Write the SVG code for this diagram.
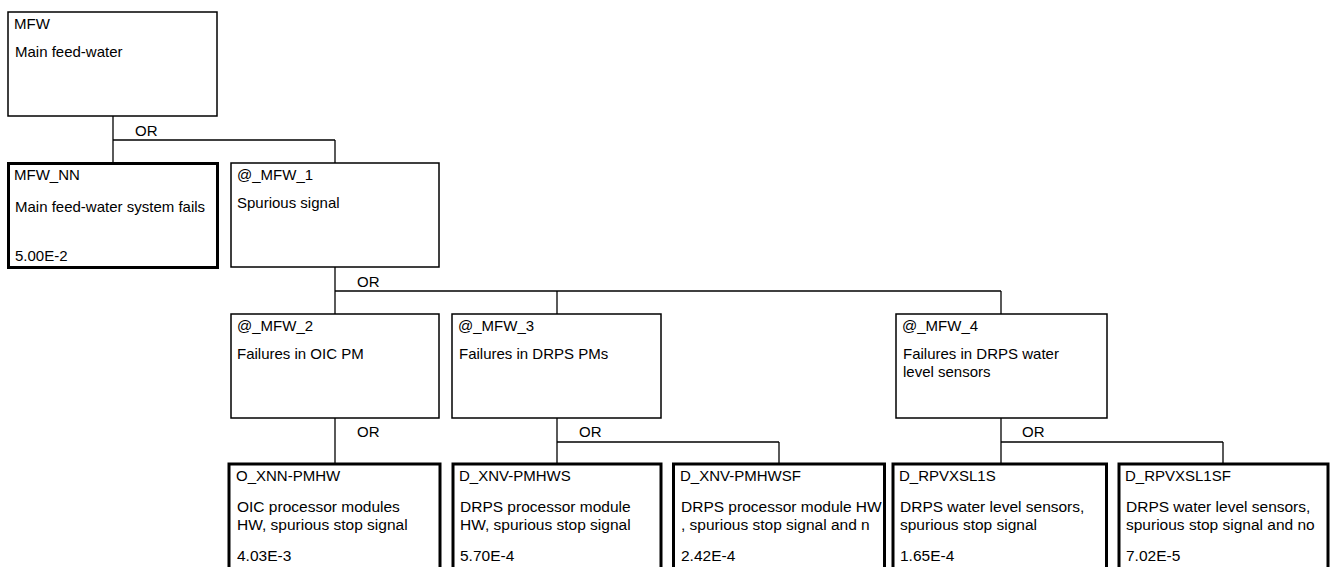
<svg xmlns="http://www.w3.org/2000/svg" width="1331" height="567" viewBox="0 0 1331 567">
<style>
text{font-family:"Liberation Sans",Arial,sans-serif;font-size:15px;fill:#000}
.b text{font-size:15.5px}
.b text.id{font-size:15px}
.gate{fill:#fff;stroke:#000;stroke-width:1.5}
.basic{fill:#fff;stroke:#000;stroke-width:3}
.conn line{stroke:#000;stroke-width:1.3}
</style>
<defs>
<clipPath id="clipSF"><rect x="675" y="466" width="207" height="101"/></clipPath>
</defs>
<g class="conn" id="connectors">
<line x1="113" y1="116" x2="113" y2="163"/>
<line x1="113" y1="140" x2="335" y2="140"/>
<line x1="335" y1="140" x2="335" y2="163"/>
<line x1="335" y1="267" x2="335" y2="314"/>
<line x1="335" y1="291" x2="1001" y2="291"/>
<line x1="557" y1="291" x2="557" y2="314"/>
<line x1="1001" y1="291" x2="1001" y2="314"/>
<line x1="335" y1="418" x2="335" y2="463"/>
<line x1="557" y1="418" x2="557" y2="463"/>
<line x1="557" y1="442" x2="779" y2="442"/>
<line x1="779" y1="442" x2="779" y2="463"/>
<line x1="1001" y1="418" x2="1001" y2="463"/>
<line x1="1001" y1="442" x2="1223" y2="442"/>
<line x1="1223" y1="442" x2="1223" y2="463"/>
<text x="135" y="136">OR</text>
<text x="357" y="287">OR</text>
<text x="357" y="437">OR</text>
<text x="579" y="437">OR</text>
<text x="1022" y="437">OR</text>
</g>
<g id="MFW">
<rect class="gate" x="8" y="12" width="209" height="104"/>
<text x="14" y="29">MFW</text>
<text x="15" y="57">Main feed-water</text>
</g>
<g id="MFW_NN">
<rect class="basic" x="8.5" y="163.5" width="209" height="104"/>
<text x="14" y="180">MFW_NN</text>
<text x="15" y="212">Main feed-water system fails</text>
<text x="15" y="261">5.00E-2</text>
</g>
<g id="MFW_1">
<rect class="gate" x="231" y="163" width="208" height="104"/>
<text x="237" y="180">@_MFW_1</text>
<text x="237" y="208">Spurious signal</text>
</g>
<g id="MFW_2">
<rect class="gate" x="231" y="314" width="208" height="104"/>
<text x="237" y="331">@_MFW_2</text>
<text x="237" y="359">Failures in OIC PM</text>
</g>
<g id="MFW_3">
<rect class="gate" x="452" y="314" width="209" height="104"/>
<text x="458" y="331">@_MFW_3</text>
<text x="459" y="359">Failures in DRPS PMs</text>
</g>
<g id="MFW_4">
<rect class="gate" x="896" y="314" width="211" height="104"/>
<text x="902" y="331">@_MFW_4</text>
<text x="903" y="359">Failures in DRPS water</text>
<text x="903" y="377">level sensors</text>
</g>
<g id="O_XNN-PMHW" class="b">
<rect class="basic" x="229" y="464" width="211" height="105"/>
<text class="id" x="236" y="481">O_XNN-PMHW</text>
<text x="237" y="512">OIC processor modules</text>
<text x="237" y="530">HW, spurious stop signal</text>
<text x="237" y="561">4.03E-3</text>
</g>
<g id="D_XNV-PMHWS" class="b">
<rect class="basic" x="453" y="464" width="208" height="105"/>
<text class="id" x="459" y="481">D_XNV-PMHWS</text>
<text x="460" y="512">DRPS processor module</text>
<text x="460" y="530">HW, spurious stop signal</text>
<text x="460" y="561">5.70E-4</text>
</g>
<g id="D_XNV-PMHWSF" class="b">
<rect class="basic" x="673.5" y="464" width="211" height="105"/>
<text class="id" x="680" y="481">D_XNV-PMHWSF</text>
<g clip-path="url(#clipSF)">
<text x="681" y="512">DRPS processor module HW</text>
<text x="681" y="530">, spurious stop signal and n</text>
</g>
<text x="681" y="561">2.42E-4</text>
</g>
<g id="D_RPVXSL1S" class="b">
<rect class="basic" x="893" y="464" width="213.5" height="105"/>
<text class="id" x="899" y="481">D_RPVXSL1S</text>
<text x="900" y="512">DRPS water level sensors,</text>
<text x="900" y="530">spurious stop signal</text>
<text x="900" y="561">1.65E-4</text>
</g>
<g id="D_RPVXSL1SF" class="b">
<rect class="basic" x="1119" y="464" width="209" height="105"/>
<text class="id" x="1125" y="481">D_RPVXSL1SF</text>
<text x="1126" y="512">DRPS water level sensors,</text>
<text x="1126" y="530">spurious stop signal and no</text>
<text x="1126" y="561">7.02E-5</text>
</g>
</svg>
